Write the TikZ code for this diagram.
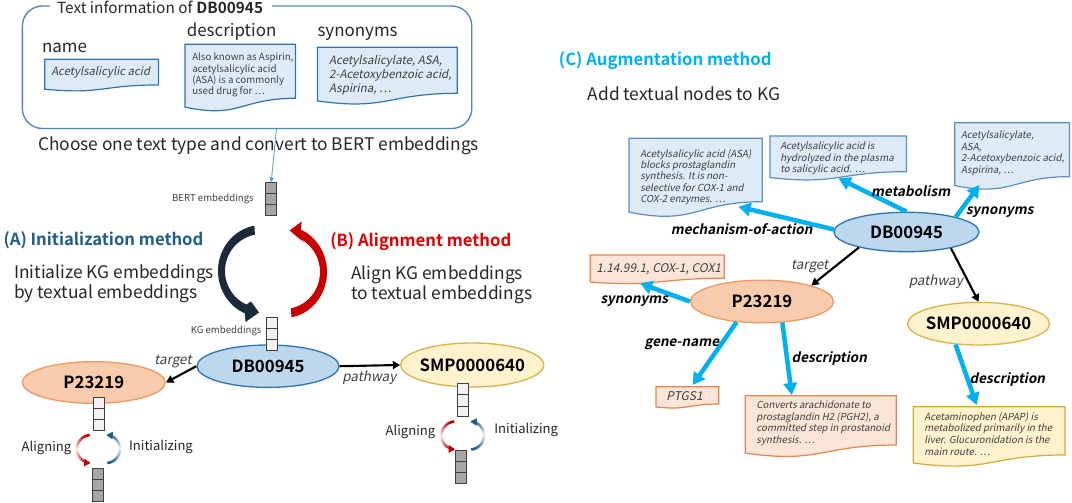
\documentclass[tikz,border=0pt]{standalone}
\usepackage{fontspec}
\setmainfont{Noto Sans CJK JP}[BoldFont={Noto Sans CJK JP Bold}, ItalicFont={Noto Sans CJK JP}, ItalicFeatures={FakeSlant=0.2}, BoldItalicFont={Noto Sans CJK JP Bold}, BoldItalicFeatures={FakeSlant=0.2}]
\usetikzlibrary{arrows.meta,shapes.geometric,calc}
\definecolor{boxblue}{HTML}{4A86C0}
\definecolor{docfillB}{HTML}{DEEBF7}
\definecolor{docdrawB}{HTML}{2E75B6}
\definecolor{docdrawR}{HTML}{5B8DBF}
\definecolor{docfillO}{HTML}{FBE5D6}
\definecolor{docdrawO}{HTML}{E8834E}
\definecolor{docfillG}{HTML}{FFF2CC}
\definecolor{docdrawG}{HTML}{D4AA3C}
\definecolor{dbfill}{HTML}{BDD7EE}
\definecolor{dbdraw}{HTML}{2E75B6}
\definecolor{pfill}{HTML}{F8CBAD}
\definecolor{pdraw}{HTML}{EE9A62}
\definecolor{sfill}{HTML}{FFF2CC}
\definecolor{sdraw}{HTML}{D9B44A}
\definecolor{cyan0}{HTML}{00B0F0}
\definecolor{colA}{HTML}{1F5C8C}
\definecolor{colB}{HTML}{E00000}
\definecolor{darkarr}{HTML}{1C2A3A}
\definecolor{redarr}{HTML}{C80000}
\definecolor{redS}{HTML}{C00000}
\definecolor{blueS}{HTML}{1F5C8C}
\definecolor{tgray}{HTML}{404040}
\definecolor{tdark}{HTML}{262626}
\definecolor{stgray}{HTML}{A6A6A6}
\definecolor{stlight}{HTML}{F2F2F2}
\definecolor{conncol}{HTML}{4A9FE0}
\newcommand\fs[2]{\fontsize{#1}{#2}\selectfont}
\newcommand\stack[4]{%
  \node[stk, fill=#4] (#1) at (#2,#3) {};
  \draw[draw=black!75, line width=0.7pt]
    ($(#1.north west)!1/3!(#1.south west)$) -- ($(#1.north east)!1/3!(#1.south east)$)
    ($(#1.north west)!2/3!(#1.south west)$) -- ($(#1.north east)!2/3!(#1.south east)$);}
\newcommand\doc[7]{%
  \node[inner sep=0, outer sep=0, minimum width={(#4-#2)*0.75pt}, minimum height={#5*0.75pt}, anchor=north west] (#1) at (#2,#3) {};
  \filldraw[fill=#6, draw=#7, line width=0.9pt] (#1.north west) -- (#1.north east)
    -- ($(#1.north east)!0.802!(#1.south east)$)
    .. controls ($(#1.north)!0.802!(#1.south)$) and ($(#1.north)!1.1075!(#1.south)$)
    .. ($(#1.north west)!0.934!(#1.south west)$) -- cycle;}
\newcommand\garc[6]{%
  \foreach \i in {0,...,29}{%
    \pgfmathsetmacro\ta{#3+\i*(#4-(#3))/30}%
    \pgfmathsetmacro\tb{#3+(\i+1.2)*(#4-(#3))/30}%
    \pgfmathtruncatemacro\pp{min(100,8+abs(\ta-(#5))*1.35)}%
    \draw[line width=1.9pt, draw=#6!\pp!white] plot[domain=\ta:\tb, samples=3, variable=\t] ({#1+14*cos(\t)},{#2-14*sin(\t)});
  }
  \draw[line width=1.9pt, draw=#6, -{Triangle[length=4.5pt,width=5.5pt]}] plot[domain=#4:#4+12, samples=5, variable=\t] ({#1+14*cos(\t)},{#2-14*sin(\t)});}
\tikzset{
  lbl/.style={inner sep=0, text=tdark},
  ell/.style={ellipse, inner sep=0, line width=1pt, font=\fs{12.6pt}{14pt}\bfseries},
  stk/.style={draw=black!75, line width=0.7pt, minimum width=7.9pt, minimum height=24.75pt, inner sep=0},
  blk/.style={line width=1.6pt, -{Triangle[length=5.5pt,width=6pt]}},
  cyn/.style={draw=cyan0, line width=3.4pt, -{Triangle[length=9pt,width=10pt]}},
  doctext/.style={inner sep=0, anchor=north west, align=left, text=tgray},
  elab/.style={inner sep=0, font=\fs{10.1pt}{12pt}\bfseries\itshape, text=black},
  elab2/.style={inner sep=0, font=\fs{10.1pt}{12pt}\itshape, text=tgray},
  big/.style={inner sep=0, font=\fs{13pt}{15pt}, text=tdark, align=left},
  head/.style={anchor=west, inner sep=0, font=\fs{12.5pt}{14pt}\bfseries},
  small/.style={inner sep=0, font=\fs{9.8pt}{11pt}, text=tdark},
  conn/.style={draw=conncol, line width=0.6pt, -{Triangle[length=3.5pt,width=3.5pt]}}
}
\begin{document}
\begin{tikzpicture}[x=0.75pt,y=-0.75pt]
\fill[white] (0,0) rectangle (1072,503);
\useasboundingbox (0,0) rectangle (1072,503);
% ---------- top text box ----------
\draw[boxblue, line width=1pt, rounded corners=15pt] (50,6) -- (22.4,6) -- (22.4,128.5) -- (471.8,128.5) -- (471.8,6) -- (272,6);
\node[inner sep=0, font=\fs{11.5pt}{13pt}, text=tdark] (title) at (160.1,7.3) {Text information of \textbf{DB00945}};
\node[lbl, font=\fs{12.7pt}{14pt}] (lname) at (64.5,47.7) {name};
\node[lbl, font=\fs{12.7pt}{14pt}] (ldesc) at (231.6,31.7) {description};
\node[lbl, font=\fs{12.7pt}{14pt}] (lsyn) at (357.6,33.3) {synonyms};
\doc{dName}{44.8}{59.3}{158.4}{32}{docfillB}{docdrawB}
\node[inner sep=0, font=\fs{8.5pt}{10pt}\itshape, text=tgray] (tName) at (100.7,72.7) {Acetylsalicylic acid};
\doc{dDesc}{185}{44.3}{295.5}{67.3}{docfillB}{docdrawB}
\node[doctext, font=\fs{7.3pt}{8.5pt}] (tDesc) at (192,52.9) {Also known as Aspirin,\\acetylsalicylic acid\\(ASA) is a commonly\\used drug for ⋯};
\doc{dSyn}{317.5}{47.3}{457.3}{57.4}{docfillB}{docdrawB}
\node[doctext, font=\fs{8.65pt}{10.35pt}\itshape] (tSyn) at (328.9,55.5) {Acetylsalicylate, ASA,\\2-Acetoxybenzoic acid,\\Aspirina, ⋯};
\coordinate (boxB) at (276.5,128.5);
\node[inner sep=0, font=\fs{13pt}{15pt}, text=tdark] (choose) at (258.6,146) {Choose one text type and convert to BERT embeddings};
% ---------- left graph ----------
\node[ell, fill=dbfill, draw=dbdraw, minimum width=142*0.75pt, minimum height=42.4*0.75pt] (dbL) at (268,366.2) {\makebox[0pt]{DB00945}};
\node[ell, fill=pfill, draw=pdraw, minimum width=143*0.75pt, minimum height=41.6*0.75pt] (pL) at (93.8,382.5) {\makebox[0pt]{P23219}};
\node[ell, fill=sfill, draw=sdraw, minimum width=143*0.75pt, minimum height=44*0.75pt] (smpL) at (472.3,365) {\makebox[0pt]{SMP0000640}};
\draw[blk] (dbL.west) -- (pL.east);
\draw[blk] (dbL.east) -- (smpL.west);
\node[elab2] (ltarget) at (173,361.7) {target};
\node[elab2] (lpath) at (369.3,377.5) {pathway};
\stack{bert}{271.2}{199.2}{stgray}
\stack{kg}{272.1}{333.7}{stlight}
\stack{pW}{99.2}{414}{stlight}
\stack{pG}{98}{485.2}{stgray}
\stack{sW}{462.7}{400.4}{stlight}
\stack{sG}{460.9}{467.2}{stgray}
\draw[conn] (boxB) -- (bert.north);
\node[anchor=east, inner sep=0, font=\fs{7.2pt}{9pt}, text=tgray] (lbert) at (254,199) {BERT embeddings};
\node[anchor=east, inner sep=0, font=\fs{7.2pt}{9pt}, text=tgray] (lkg) at (261.7,330.7) {KG embeddings};
% big curved arrows
\fill[darkarr] plot[domain=100:247, samples=40, variable=\t] ({262+44*cos(\t)},{271-46*sin(\t)})
  -- (245.5,322) -- (259,312.5) -- (251,301.5)
  -- plot[domain=245:101, samples=40, variable=\t] ({262+37*cos(\t)},{271-37*sin(\t)}) -- cycle;
\fill[redarr] plot[domain=-80:67, samples=40, variable=\t] ({284+43*cos(\t)},{272-46*sin(\t)})
  -- (301.7,221.5) -- (289.5,230.5) -- (304.5,243)
  -- plot[domain=65:-79, samples=40, variable=\t] ({284+36*cos(\t)},{272-37*sin(\t)}) -- cycle;
\node[head, text=colA] (hA) at (3.4,240) {(A) Initialization method};
\node[big, anchor=west] (tA) at (13.8,283.3) {Initialize KG embeddings\\by textual embeddings};
\node[head, text=colB] (hB) at (330,241.7) {(B) Alignment method};
\node[big, anchor=west] (tB) at (351,285) {Align KG embeddings\\to textual embeddings};
% small arcs
\garc{91}{449}{95}{255}{180}{redS}
\garc{106}{449}{-85}{75}{0}{blueS}
\garc{455.5}{435.5}{95}{255}{180}{redS}
\garc{470}{435.5}{-85}{75}{0}{blueS}
\node[small] (alP) at (46.5,448.3) {Aligning};
\node[small] (inP) at (161,446.7) {Initializing};
\node[small] (alS) at (410.5,431.7) {Aligning};
\node[small, anchor=west] (inS) at (494.1,430) {Initializing};
% ---------- right graph ----------
\node[head, text=cyan0] (hC) at (558.7,60.7) {(C) Augmentation method};
\node[big, anchor=west] (tC) at (587.5,93.3) {Add textual nodes to KG};
\doc{dMech}{629}{138.3}{762.3}{79}{docfillB}{docdrawR}
\node[doctext, font=\fs{7.3pt}{8.55pt}\itshape] (tMech) at (640,148.9) {Acetylsalicylic acid (ASA)\\blocks prostaglandin\\synthesis. It is non-\\selective for COX-1 and\\COX-2 enzymes. ⋯};
\doc{dMetab}{770}{136}{906.5}{44.5}{docfillB}{docdrawR}
\node[doctext, font=\fs{7.3pt}{8.5pt}\itshape] (tMetab) at (780,141.9) {Acetylsalicylic acid is\\hydrolyzed in the plasma\\to salicylic acid. ⋯};
\doc{dSynR}{954.7}{122.7}{1069.4}{67.3}{docfillB}{docdrawR}
\node[doctext, font=\fs{7.3pt}{8.8pt}\itshape] (tSynR) at (960.8,130.5) {Acetylsalicylate,\\ASA,\\2-Acetoxybenzoic acid,\\Aspirina, ⋯};
\doc{dSynP}{590.2}{255}{724.3}{29}{docfillO}{docdrawO}
\node[inner sep=0, anchor=west, font=\fs{9pt}{11pt}\itshape, text=tgray] (tSynP) at (596,269.3) {1.14.99.1, COX-1, COX1};
\doc{dPTGS}{656}{386.7}{718.8}{21.6}{docfillO}{docdrawO}
\node[inner sep=0, anchor=west, font=\fs{9pt}{11pt}\itshape, text=tgray] (tPTGS) at (666.2,396) {PTGS1};
\doc{dDescP}{745.3}{395.7}{896.3}{61.5}{docfillO}{docdrawO}
\node[doctext, font=\fs{7.3pt}{8.7pt}\itshape] (tDescP) at (756.2,400.5) {Converts arachidonate to\\prostaglandin H2 (PGH2), a\\committed step in prostanoid\\synthesis. ⋯};
\doc{dSMP}{913.3}{406.7}{1065}{60.2}{docfillG}{docdrawG}
\node[doctext, font=\fs{7.3pt}{8.8pt}\itshape] (tSMP) at (924.1,411.9) {Acetaminophen (APAP) is\\metabolized primarily in the\\liver. Glucuronidation is the\\main route. ⋯};
\node[ell, fill=dbfill, draw=dbdraw, minimum width=145*0.75pt, minimum height=39.4*0.75pt] (dbR) at (906.5,232) {\makebox[0pt]{DB00945}};
\node[ell, fill=pfill, draw=pdraw, minimum width=143*0.75pt, minimum height=42.6*0.75pt] (pR) at (762,301.5) {\makebox[0pt]{P23219}};
\node[ell, fill=sfill, draw=sdraw, minimum width=142*0.75pt, minimum height=42.6*0.75pt] (smpR) at (978.6,323.7) {\makebox[0pt]{SMP0000640}};
\coordinate (tipMech) at (738.5,206.7);
\coordinate (tipMetab) at (838.6,178.3);
\coordinate (tipSynR) at (979.4,185);
\coordinate (tipSynP) at (640.1,283.3);
\coordinate (tipGene) at (692.7,385);
\coordinate (tipDescP) at (791.8,395);
\coordinate (tipDescS) at (976.7,405);
\draw[cyn] (dbR.178) -- (tipMech);
\draw[cyn] (dbR.north) -- (tipMetab);
\draw[cyn] (dbR.17) -- (tipSynR);
\draw[cyn] (pR.west) -- (tipSynP);
\draw[cyn] (pR.219) -- (tipGene);
\draw[cyn] (pR.-46) -- (tipDescP);
\draw[cyn] (smpR.222) -- (tipDescS);
\draw[blk] (dbR.198) -- (pR.18);
\draw[blk] (dbR.-20) -- (smpR.north);
\node[elab] (lMech) at (741.6,229.3) {mechanism-of-action};
\node[elab] (lMetab) at (910.7,190.7) {metabolism};
\node[elab] (lSynR) at (999.8,211.7) {synonyms};
\node[elab2] (lTargetR) at (809.7,266) {target};
\node[elab2] (lPathR) at (935.8,281.7) {pathway};
\node[elab] (lSynP) at (634.3,301) {synonyms};
\node[elab] (lGene) at (681.8,344.3) {gene-name};
\node[elab] (lDescP) at (829.3,358.3) {description};
\node[elab] (lDescS) at (1007.4,379.3) {description};
\end{tikzpicture}
\end{document}
